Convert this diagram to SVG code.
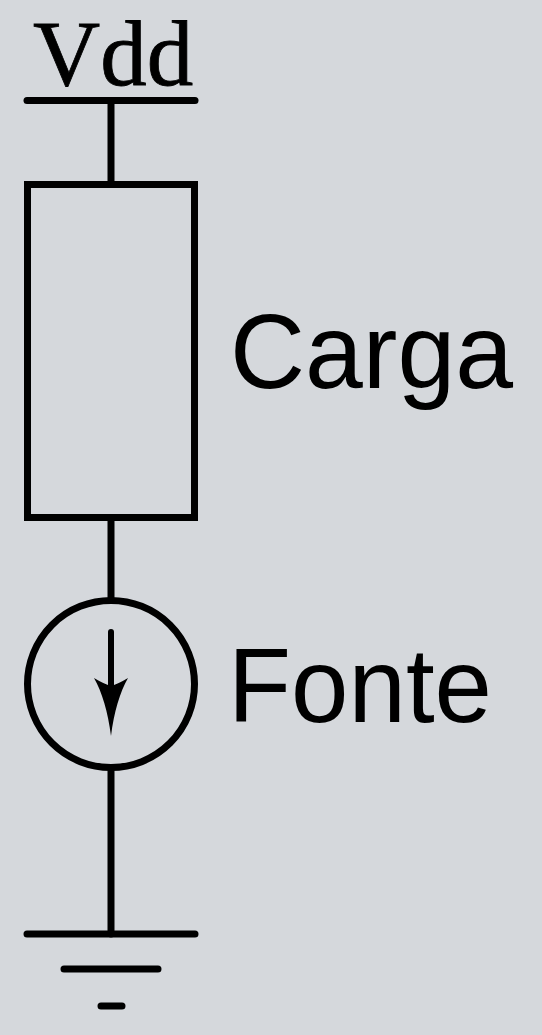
<svg xmlns="http://www.w3.org/2000/svg" width="542" height="1035" viewBox="0 0 542 1035">
<style>
.w{stroke:#000;stroke-width:7;fill:none;stroke-linecap:round}
.s{font-family:"Liberation Sans",Arial,sans-serif;font-size:106px;fill:#000}
.t{font-family:"Liberation Serif","Times New Roman",serif;font-size:93px;fill:#000;stroke:#000;stroke-width:.8px}
</style>
<rect width="542" height="1035" fill="#d5d8dc"/>
<g id="connectors">
<path class="w" d="M111 101V184M111 518V597M111 771V934"/>
</g>
<g id="vdd"><path class="w" d="M27 100.500H195"/><text class="t" x="33" y="85">Vdd</text></g>
<g id="carga"><rect class="w" style="stroke-linecap:butt" x="27.500" y="184.500" width="167" height="333"/><text class="s" x="230" y="388" textLength="283" lengthAdjust="spacingAndGlyphs">Carga</text></g>
<g id="fonte"><circle class="w" cx="111" cy="684" r="83.500"/>
<path class="w" style="stroke-width:6" d="M111 632V690"/><path d="M111 736C108 712 102 692 94 678Q104 684 111 686Q118 684 128 678C120 692 114 712 111 736Z" fill="#000"/>
<text class="s" x="228" y="722" textLength="264" lengthAdjust="spacingAndGlyphs">Fonte</text></g>
<g id="ground"><path class="w" d="M27 934H195M64 969H158M101 1006H122"/></g>
</svg>
